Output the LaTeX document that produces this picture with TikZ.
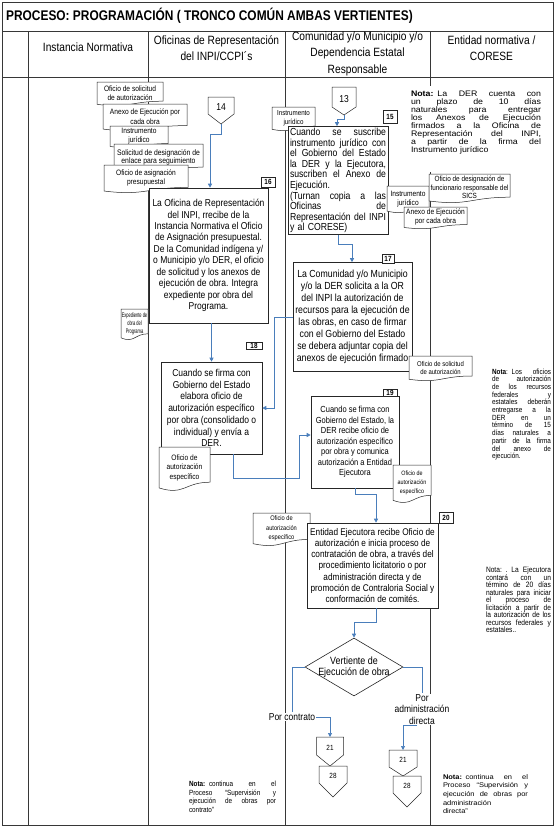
\documentclass[tikz,border=0pt]{standalone}
\usepackage{fontspec}
\setmainfont{Liberation Sans}[FakeStretch=0.85]
\newfontfamily\wnote{Liberation Sans}[FakeStretch=1.1]
\usetikzlibrary{arrows.meta,shapes.geometric}
\definecolor{flowblue}{RGB}{74,126,187}
\definecolor{gridc}{RGB}{55,55,55}
\newcommand\jl[2]{\makebox[#1][s]{\spaceskip=\fontdimen2\font plus 1fil\relax #2}}
% document shape: name, xl, yt, xr, h, fontsize, skip, text
\newcommand\docshape[8]{%
  \filldraw[docline] (#2,#3) -- (#4,#3) -- (#4,{#3+0.80*#5})
    .. controls ({(#2+#4)/2},{#3+0.80*#5}) and ({(#2+#4)/2},{#3+1.11*#5}) .. (#2,{#3+0.93*#5}) -- cycle;
  \node[doctext, font=\fontsize{#6}{#7}\selectfont] (#1) at ({(#2+#4)/2},{#3+0.47*#5}) {#8};
}
% off-page connector: name, cx, yt, halfwidth, side, point, text
\newcommand\offpg[7]{%
  \filldraw[docline] ({#2-#4},#3) -- ({#2+#4},#3) -- ({#2+#4},{#3+#5}) -- (#2,{#3+#6}) -- ({#2-#4},{#3+#5}) -- cycle;
  \coordinate (#1-top) at (#2,#3);
  \coordinate (#1-bot) at (#2,{#3+#6});
  \node[inner sep=0pt] (#1) at (#2,{#3+0.6*#5}) {#7};
}
\begin{document}
\begin{tikzpicture}[x=1pt,y=-1pt,
  frame/.style={draw=gridc, line width=0.8pt},
  docline/.style={draw=black!85, line width=0.5pt, fill=white},
  doctext/.style={align=center, inner sep=0pt},
  box/.style={draw=black!85, line width=0.6pt, fill=white, inner sep=0pt, align=center},
  tag/.style={draw=black!85, line width=0.6pt, fill=white, inner sep=0pt, font=\fontsize{7.5}{7.5}\selectfont\bfseries},
  note/.style={inner sep=0pt, align=left},
  flowline/.style={draw=flowblue, line width=0.7pt},
  flow/.style={flowline, -{Triangle[length=4pt,width=4pt]}},
  head/.style={align=center, inner sep=0pt, font=\fontsize{12}{16.5}\selectfont}]
\useasboundingbox (0,0) rectangle (555,827);

% ---- table ----
\draw[frame] (2,2) rectangle (553,825);
\draw[frame] (2,31) -- (553,31);
\draw[frame] (2,77) -- (553,77);
\draw[frame] (28,31) -- (28,825);
\draw[frame] (148,31) -- (148,825);
\draw[frame] (285,31) -- (285,825);
\draw[frame] (430,31) -- (430,825);

\node[anchor=west, inner sep=0pt, font=\fontsize{14}{14}\selectfont\bfseries] (title) at (6,16) {PROCESO: PROGRAMACIÓN ( TRONCO COMÚN AMBAS VERTIENTES)};
\node[head] (h1) at (88,47.6) {Instancia Normativa};
\node[head] (h2) at (216.5,48) {Oficinas de Representación\\del INPI/CCPI´s};
\node[head] (h3) at (357.5,53.5) {Comunidad y/o Municipio y/o\\Dependencia Estatal\\Responsable};
\node[head] (h4) at (491.5,48) {Entidad normativa /\\CORESE};

% ---- notes ----
\fill[white] (409,86) rectangle (546,172);
\node[note, text width=130pt, font=\wnote\fontsize{8}{7.9}\selectfont] (n1) at (476,122.5) {%
\jl{130pt}{\textbf{Nota:} La DER cuenta con}\\
\jl{130pt}{un plazo de 10 días}\\
\jl{130pt}{naturales para entregar}\\
\jl{130pt}{los Anexos de Ejecución}\\
\jl{130pt}{firmados a la Oficina de}\\
\jl{130pt}{Representación del INPI,}\\
\jl{130pt}{a partir de la firma del}\\
Instrumento jurídico};

\node[note, text width=59pt, font=\fontsize{7.5}{7.7}\selectfont] (n2) at (521.5,414.5) {%
\jl{59pt}{\textbf{Nota}: Los oficios}\\
\jl{59pt}{de autorización}\\
\jl{59pt}{de los recursos}\\
\jl{59pt}{federales y}\\
\jl{59pt}{estatales deberán}\\
\jl{59pt}{entregarse a la}\\
\jl{59pt}{DER en un}\\
\jl{59pt}{término de 15}\\
\jl{59pt}{días naturales a}\\
\jl{59pt}{partir de la firma}\\
\jl{59pt}{del anexo de}\\
ejecución.};

\node[note, text width=65pt, font=\fontsize{7.8}{7.5}\selectfont] (n3) at (518.5,600) {%
\jl{65pt}{Nota: . La Ejecutora}\\
\jl{65pt}{contará con un}\\
\jl{65pt}{término de 20 días}\\
\jl{65pt}{naturales para iniciar}\\
\jl{65pt}{el proceso de}\\
\jl{65pt}{licitación a partir de}\\
\jl{65pt}{la autorización de los}\\
\jl{65pt}{recursos federales y}\\
estatales..};

\node[note, text width=87pt, font=\fontsize{7.5}{8.6}\selectfont] (n4) at (232.5,797) {%
\jl{87pt}{\textbf{Nota:} continua en el}\\
\jl{87pt}{Proceso “Supervisión y}\\
\jl{87pt}{ejecución de obras por}\\
contrato”};

\node[note, text width=85pt, font=\wnote\fontsize{6.8}{8.6}\selectfont] (n5) at (485.5,794) {%
\jl{85pt}{\textbf{Nota:} continua en el}\\
\jl{85pt}{Proceso “Supervisión y}\\
\jl{85pt}{ejecución de obras por}\\
administración\\
directa”};

% ---- top documents ----
\docshape{dA}{97}{82}{163}{24}{7.8}{9}{Oficio de solicitud\\de autorización}
\docshape{dB}{103}{104}{187}{27}{7.8}{9.5}{Anexo de Ejecución por\\cada obra}
\docshape{dC}{110}{126}{168}{22}{7.8}{9}{Instrumento\\jurídico}
\docshape{dD}{114}{144}{203}{29}{8}{8.5}{Solicitud de designación de\\enlace para seguimiento}
\docshape{dE}{104}{165}{188}{28}{7.8}{8.5}{Oficio de asignación\\presupuestal}
\docshape{dG}{272}{107}{315}{24}{7.3}{8.5}{Instrumento\\jurídico}

\offpg{c13}{344}{87}{12}{20}{28}{\fontsize{10}{10}\selectfont 13}
\offpg{c14}{221}{97}{13}{17}{27}{\fontsize{10}{10}\selectfont 14}

% ---- boxes ----
\node[box, minimum width=100pt, minimum height=108pt, text width=96pt, align=left,
      font=\fontsize{10.2}{10.6}\selectfont] (b15) at (338,180.5) {%
\jl{96pt}{Cuando se suscribe}\\
\jl{96pt}{instrumento jurídico con}\\
\jl{96pt}{el Gobierno del Estado}\\
\jl{96pt}{la DER y la Ejecutora,}\\
\jl{96pt}{suscriben el Anexo de}\\
Ejecución.\\
\jl{96pt}{(Turnan copia a las}\\
\jl{96pt}{Oficinas de}\\
\jl{96pt}{Representación del INPI}\\
y al CORESE)};

\node[box, minimum width=119pt, minimum height=135pt, font=\fontsize{10}{11.45}\selectfont] (b16) at (208.5,255.5) {%
La Oficina de Representación\\del INPI, rrecibe de la\\Instancia Normativa el Oficio\\de Asignación presupuestal.\\De la Comunidad indígena y/\\o Municipio y/o DER, el oficio\\de solicitud y los anexos de\\ejecución de obra. Integra\\expediente por obra del\\Programa.};

\docshape{dH}{387}{186}{429}{27}{7.8}{9}{Instrumento\\jurídico}
\docshape{dI}{429}{174}{510}{29}{7.5}{8.5}{Oficio de designación de\\funcionario responsable del\\SICS}
\docshape{dJ}{404}{207}{467}{22}{7.8}{9}{Anexo de Ejecución\\por cada obra}
\docshape{dF}{121}{309}{148}{31}{6.5}{8}{\scalebox{0.72}[1]{Expediente de}\\\scalebox{0.72}[1]{obra del}\\\scalebox{0.72}[1]{Programa}}

\node[box, minimum width=119pt, minimum height=109pt, font=\fontsize{10.3}{12}\selectfont] (b17) at (352.5,317) {%
La Comunidad y/o Municipio\\y/o la DER solicita a la OR\\del INPI la autorización de\\recursos para la ejecución de\\las obras, en caso de firmar\\con el Gobierno del Estado\\se debera adjuntar copia del\\anexos de ejecución firmado};
\docshape{dK}{409}{356}{472}{25}{7}{8.5}{Oficio de solicitud\\de autorización}

\node[box, minimum width=101pt, minimum height=92pt, font=\fontsize{10}{11.7}\selectfont] (b18) at (211.5,408) {%
Cuando se firma con\\Gobierno del Estado\\elabora oficio de\\autorización específico\\por obra (consolidado o\\individual) y envía a\\DER.};
\docshape{dL}{159}{447}{210}{44}{7.8}{9.6}{Oficio de\\autorización\\específico}

\node[box, minimum width=88pt, minimum height=92pt, font=\fontsize{8.8}{10.5}\selectfont] (b19) at (355,442) {%
Cuando se firma con\\Gobierno del Estado, la\\DER recibe oficio de\\autorización específico\\por obra y comunica\\autorización a Entidad\\Ejecutora};
\docshape{dM}{393}{465}{431}{38}{6.3}{9}{Oficio de\\autorización\\específico}

\docshape{dN}{253}{513}{310}{33}{6.7}{9.5}{Oficio de\\autorización\\específico}
\node[box, minimum width=131pt, minimum height=85pt, font=\fontsize{9.7}{11.1}\selectfont] (b20) at (372.5,565.5) {%
Entidad Ejecutora recibe Oficio de\\autorización e inicia proceso de\\contratación de obra, a través del\\procedimiento licitatorio o por\\administración directa y de\\promoción de Contraloria Social y\\conformación de comités.};

% ---- number tags ----
\node[tag, minimum width=14pt, minimum height=13pt] (t15) at (390,116.5) {15};
\node[tag, minimum width=14pt, minimum height=10pt] (t16) at (268,182) {16};
\node[tag, minimum width=12pt, minimum height=9pt] (t17) at (388,258.5) {17};
\node[tag, minimum width=16pt, minimum height=6.5pt] (t18) at (254,346) {18};
\node[tag, minimum width=14pt, minimum height=7pt] (t19) at (390,392.5) {19};
\node[tag, minimum width=14pt, minimum height=11pt] (t20) at (446,517.5) {20};

% ---- decision ----
\node[diamond, draw=black!85, line width=0.6pt, fill=white, minimum width=98pt, minimum height=58pt, inner sep=0pt] (dia) at (354,667) {};
\node[align=center, inner sep=0pt, font=\fontsize{10.5}{11}\selectfont] (diatext) at (354,667.5) {Vertiente de\\Ejecución de obra};
\node[fill=white, inner sep=1pt, font=\fontsize{10}{11}\selectfont] (pc) at (292,717) {Por contrato};
\node[fill=white, inner sep=1pt, align=center, font=\fontsize{10}{11.5}\selectfont] (pad) at (422,709.5) {Por\\administración\\directa};

\offpg{c21a}{330}{737}{13.5}{18}{29}{\fontsize{7.5}{7.5}\selectfont 21}
\offpg{c28a}{333}{766}{14}{17}{31}{\fontsize{7.5}{7.5}\selectfont 28}
\offpg{c21b}{403}{750}{14}{17}{26}{\fontsize{7.5}{7.5}\selectfont 21}
\offpg{c28b}{407}{776}{14}{17}{31}{\fontsize{7.5}{7.5}\selectfont 28}

% ---- flow lines ----
\coordinate (j13) at (337,119);
\coordinate (j14) at (210,134);
\coordinate (j15) at (352,244);
\coordinate (j17a) at (274,317);
\coordinate (j17b) at (274,408);
\coordinate (j18a) at (233,478);
\coordinate (j18b) at (299,478);
\coordinate (j18c) at (299,435);
\coordinate (j19) at (376,494);
\coordinate (j20) at (376,622);
\draw[flow] (c13-bot) |- (j13) -- (b15.north -| j13);
\draw[flow] (c14-bot) |- (j14) -- (b16.north -| j14);
\draw[flow] (b15.south) |- (j15) -- (b17.north -| j15);
\draw[flow] (b16.south -| b18.north) -- (b18.north);
\draw[flow] (b17.west |- j17a) -- (j17a) -- (j17b) -- (b18.east |- j17b);
\draw[flow] (b18.south -| j18a) -- (j18a) -- (j18b) -- (j18c) -- (b19.west |- j18c);
\draw[flow] (b19.south) |- (j19) -- (b20.north -| j19);
\draw[flow] (b20.south -| j20) -- (j20) -| (dia.north);
\draw[flowline] (dia.west) -| (pc.north);
\draw[flow] (pc.east) -| (c21a-top);
\draw[flowline] (dia.east) -| (pad.north);
\draw[flow] ([xshift=-5pt]pad.south) -| (c21b-top);
\end{tikzpicture}
\end{document}
